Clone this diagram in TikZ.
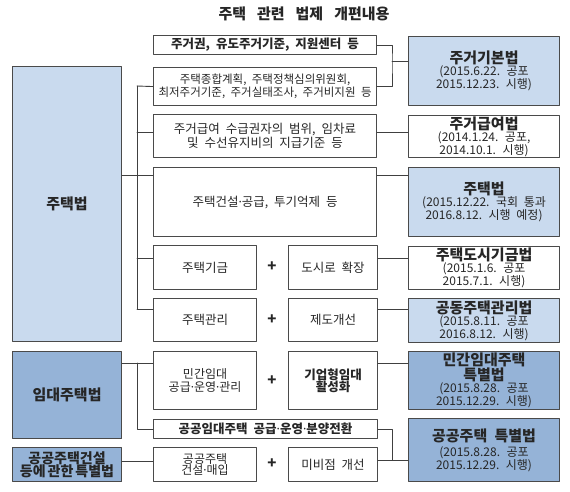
\documentclass[tikz,border=0pt]{standalone}
\usepackage{fontspec}
\setmainfont{Noto Sans CJK KR}[WordSpace=2.1]
\newfontfamily\titlefont{Noto Sans CJK KR}[WordSpace=3.2]
\newfontfamily\dotfont{Noto Sans}
\newcommand\mdot{{\dotfont\textperiodcentered}}
\definecolor{boxline}{HTML}{4A4A4A}
\definecolor{linkline}{HTML}{404040}
\definecolor{paleblue}{HTML}{C9DAEE}
\definecolor{lawblue}{HTML}{95B3D7}

\begin{document}
\begin{tikzpicture}[x=1pt,y=-1pt,line cap=round,line join=round,
    box/.style={draw=boxline,line width=1.1pt,anchor=north west,inner sep=1pt,
      align=center,text=black!85,font=\fontsize{12.5}{14.5}\selectfont},
    wide/.style={minimum width=223pt},
    half/.style={minimum width=103pt},
    lawbox/.style={box,minimum width=151pt,font=\fontsize{12}{12}\selectfont},
    actbox/.style={box,minimum width=109pt,fill=lawblue,
      font=\fontsize{15}{14}\selectfont\bfseries},
    link/.style={draw=linkline,line width=0.9pt},
    plus/.style={font=\fontsize{15}{15}\selectfont\bfseries,text=black!85}]
  \useasboundingbox (0,0) rectangle (570,491);

  \node[font=\titlefont\fontsize{15}{16}\selectfont\bfseries,text=black!85] (title) at (304,14) {주택 관련 법제 개편내용};

  % left column
  \node[actbox,fill=paleblue,minimum height=275pt] (L1) at (12,66) {주택법};
  \node[actbox,minimum height=87pt] (L2) at (12,351) {임대주택법};
  \node[actbox,minimum height=34pt,inner sep=0pt,font=\fontsize{14}{13.5}\selectfont\bfseries] (L3) at (12,447) {공공주택건설\\등에\hspace{2pt}관한\hspace{2pt}특별법};

  % middle column
  \node[box,wide,minimum height=19pt,font=\fontsize{12.5}{14}\selectfont\bfseries] (m1) at (153,35) {주거권, 유도주거기준, 지원센터 등};
  \node[box,wide,minimum height=38pt,font=\fontsize{11.5}{13}\selectfont] (m2) at (153,67) {주택종합계획, 주택정책심의위원회,\\최저주거기준, 주거실태조사, 주거비지원 등};
  \node[box,wide,minimum height=43pt] (m3) at (153,114) {주거급여 수급권자의 범위, 임차료\\및 수선유지비의 지급기준 등};
  \node[box,wide,minimum height=69pt] (m4) at (153,167) {주택건설\mdot 공급, 투기억제 등};
  \node[box,half,minimum height=44pt] (m5a) at (153,245) {주택기금};
  \node[box,minimum width=89pt,minimum height=44pt] (m5b) at (288,245) {도시로 확장};
  \node[box,half,minimum height=43pt] (m6a) at (153,298) {주택관리};
  \node[box,minimum width=89pt,minimum height=43pt] (m6b) at (288,298) {제도개선};
  \node[box,half,minimum height=58pt,font=\fontsize{12}{12.5}\selectfont] (m7a) at (153,351) {민간임대\\공급\mdot 운영\mdot 관리};
  \node[box,minimum width=89pt,minimum height=58pt,font=\fontsize{12.5}{12}\selectfont\bfseries] (m7b) at (288,351) {기업형임대\\활성화};
  \node[box,minimum width=224pt,minimum height=19pt,font=\fontsize{12.5}{14}\selectfont\bfseries] (m8) at (153,419) {공공임대주택 공급\mdot 운영\mdot 분양전환};
  \node[box,half,minimum height=34pt,inner sep=0pt,font=\fontsize{12}{11.5}\selectfont] (m9a) at (153,447) {공공주택\\건설\mdot 매입};
  \node[box,minimum width=89pt,minimum height=34pt] (m9b) at (288,447) {미비점 개선};

  \node[plus] (p5) at (272,267) {+};
  \node[plus] (p6) at (272,320) {+};
  \node[plus] (p7) at (272,381) {+};
  \node[plus] (p9) at (272,464) {+};

  % right column
  \node[lawbox,fill=paleblue,minimum height=69pt] (r1) at (408,36) {{\fontsize{15}{16}\selectfont\bfseries 주거기본법}\\(2015.6.22. 공포\\2015.12.23. 시행)};
  \node[lawbox,minimum height=42pt,inner sep=0pt] (r2) at (408,115) {{\fontsize{15}{16}\selectfont\bfseries 주거급여법}\\(2014.1.24. 공포,\\2014.10.1. 시행)};
  \node[lawbox,fill=paleblue,minimum height=69pt] (r3) at (408,167) {{\fontsize{15}{16}\selectfont\bfseries 주택법}\\(2015.12.22. 국회 통과\\2016.8.12. 시행 예정)};
  \node[lawbox,minimum height=43pt,inner sep=0pt] (r4) at (408,246) {{\fontsize{15}{16}\selectfont\bfseries 주택도시기금법}\\(2015.1.6. 공포\\2015.7.1. 시행)};
  \node[lawbox,fill=paleblue,minimum height=44pt,inner sep=0pt] (r5) at (408,298) {{\fontsize{15}{16}\selectfont\bfseries 공동주택관리법}\\(2015.8.11. 공포\\2016.8.12. 시행)};
  \node[lawbox,fill=lawblue,minimum height=58pt,inner sep=0pt] (r6) at (408,351) {{\fontsize{15}{13}\selectfont\bfseries 민간임대주택}\\{\fontsize{15}{13}\selectfont\bfseries 특별법}\\(2015.8.28. 공포\\2015.12.29. 시행)};
  \node[lawbox,fill=lawblue,minimum height=63pt] (r7) at (408,418) {{\fontsize{15}{16}\selectfont\bfseries 공공주택 특별법}\\[3pt](2015.8.28. 공포\\2015.12.29. 시행)};

  % connectors
  \coordinate (j1) at (392,61);
  \coordinate (s1) at (137,86);
  \coordinate (s3) at (137,132);
  \coordinate (s4) at (137,175);
  \coordinate (s5) at (137,258);
  \coordinate (s6) at (137,309);
  \coordinate (t7) at (137,363);
  \coordinate (j2) at (392,460);
  \coordinate (t9) at (137,461);

  \draw[link] (m1.east) -| (j1) |- (m2.east);
  \draw[link] (j1) -- (r1.west |- j1);
  \draw[link] (s1) -- (s6);
  \draw[link] (s1) -- (m2.west);
  \draw[link] (s3) -- (m3.west |- s3);
  \draw[link] (m3.east |- s3) -- (r2.west |- s3);
  \draw[link] (L1.east |- s4) -- (m4.west |- s4);
  \draw[link] (m4.east |- s4) -- (r3.west |- s4);
  \draw[link] (s5) -- (m5a.west |- s5);
  \draw[link] (m5b.east |- s5) -- (r4.west |- s5);
  \draw[link] (s6) -- (m6a.west |- s6);
  \draw[link] (m6b.east |- s6) -- (r5.west |- s6);
  \draw[link] (L2.east |- t7) -- (m7a.west |- t7);
  \draw[link] (t7) |- (m8.west);
  \draw[link] (m7b.east |- t7) -- (r6.west |- t7);
  \draw[link] (m8.east) -| (j2);
  \draw[link] (m9b.east |- j2) -- (r7.west |- j2);
  \draw[link] (L3.east |- t9) -- (m9a.west |- t9);
\end{tikzpicture}
\end{document}
